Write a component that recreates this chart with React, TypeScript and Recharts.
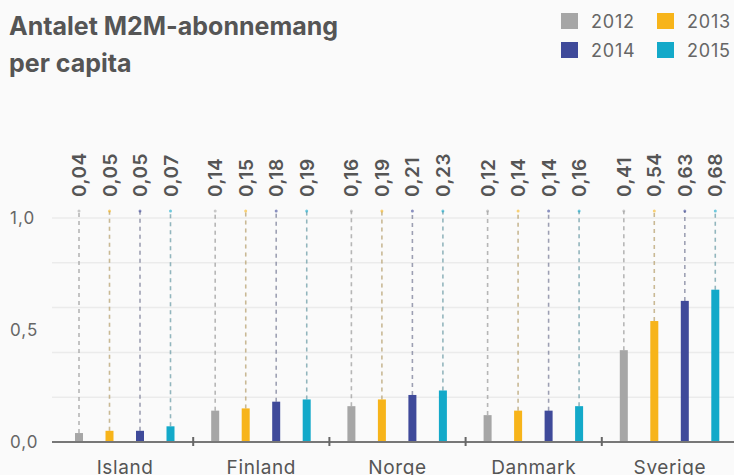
import React from 'react';
import { BarChart, Bar, XAxis, YAxis, CartesianGrid, LabelList } from 'recharts';

// kategorier + serier (värden per capita)
const countries = ['Island', 'Finland', 'Norge', 'Danmark', 'Sverige'];
const years = ['2012', '2013', '2014', '2015'];
const v2012 = [0.04, 0.14, 0.16, 0.12, 0.41];
const v2013 = [0.05, 0.15, 0.19, 0.14, 0.54];
const v2014 = [0.05, 0.18, 0.21, 0.14, 0.63];
const v2015 = [0.07, 0.19, 0.23, 0.16, 0.68];
const yTicks = [0, 0.5, 1];
const gridValues = [0.2, 0.4, 0.6, 0.8, 1.0];

const COLORS: Record<string, string> = {
  '2012': '#a6a6a6',
  '2013': '#f7b41a',
  '2014': '#3f4a9a',
  '2015': '#13a9c9',
};

const FONT = "Inter, 'DejaVu Sans', sans-serif";
const TEXT = '#555555';

// layout
const W = 740;
const H = 475;
const TOP = 218; // y of 1,0
const LEFT = 52;
const RIGHT = 2;
const PAD_L = 5;
const XH = 33;
const AXIS_Y = H - XH;
const BAND = (W - LEFT - RIGHT - PAD_L) / countries.length;

const data = countries.map((c, i) => ({
  country: c,
  y2012: v2012[i],
  y2013: v2013[i],
  y2014: v2014[i],
  y2015: v2015[i],
}));

const fmt = (v: number) => v.toFixed(2).replace('.', ',');

// stapel + streckad linje upp till etiketten
const makeShape = (color: string) => (props: any) => {
  const { x, y, width, height } = props;
  const cx = x + width / 2;
  const topY = TOP - 7;
  return (
    <g>
      <line x1={cx} x2={cx} y1={y} y2={topY} stroke="#a0a0a0" strokeOpacity={0.7} strokeWidth={1.5} strokeDasharray="4 4" />
      <line x1={cx} x2={cx} y1={y} y2={topY} stroke={color} strokeOpacity={0.25} strokeWidth={1.5} strokeDasharray="4 4" />
      <circle cx={cx} cy={topY} r={1.5} fill={color} fillOpacity={0.6} />
      <rect x={x} y={y} width={width} height={height} fill={color} />
    </g>
  );
};

const valueLabel = (props: any) => {
  const { x, width, value } = props;
  const cx = x + width / 2 + 7;
  const ty = TOP - 21;
  return (
    <text
      x={cx}
      y={ty}
      transform={`rotate(-90 ${cx} ${ty})`}
      textAnchor="start"
      fontFamily={FONT}
      fontSize={19}
      fontWeight={600}
      letterSpacing={0.5}
      fill={TEXT}
    >
      {fmt(value)}
    </text>
  );
};

const XTick = (props: any) => {
  const { x, payload, index } = props;
  return (
    <g>
      {index > 0 && (
        <line x1={x - BAND / 2} x2={x - BAND / 2} y1={AXIS_Y - 5} y2={AXIS_Y + 4} stroke="#666" strokeWidth={2} />
      )}
      <text x={x} y={H - 1} textAnchor="middle" fontFamily={FONT} fontSize={19} letterSpacing={0.6} fill={TEXT}>
        {payload.value}
      </text>
    </g>
  );
};

const YTick = (props: any) => {
  const { y, payload } = props;
  return (
    <text x={10} y={y + 6} textAnchor="start" fontFamily={FONT} fontSize={17} letterSpacing={1} fill="#666">
      {fmt(payload.value).slice(0, 3)}
    </text>
  );
};

const Legend = () => (
  <div style={{ position: 'absolute', left: 561, top: 13, width: 170, fontFamily: FONT, fontSize: 18, letterSpacing: 0.8, color: '#666' }}>
    {years.map((yr, i) => (
      <div
        key={yr}
        style={{
          position: 'absolute',
          left: (i % 2) * 96,
          top: Math.floor(i / 2) * 29,
          display: 'flex',
          alignItems: 'center',
          height: 16,
        }}
      >
        <span style={{ width: 17, height: 16, background: COLORS[yr], display: 'inline-block' }} />
        <span style={{ marginLeft: 13 }}>{yr}</span>
      </div>
    ))}
  </div>
);

export default function App() {
  return (
    <div style={{ position: 'absolute', left: 0, top: 0, width: 734, height: 475, overflow: 'hidden', background: '#fafafa' }}>
      <div style={{ position: 'absolute', left: 9, top: 8, fontFamily: FONT, fontWeight: 700, fontSize: 25, color: TEXT, lineHeight: '37px' }}>
        Antalet M2M-abonnemang
        <br />
        per capita
      </div>
      <Legend />
      <div style={{ position: 'absolute', left: 0, top: 0 }}>
        <BarChart
          width={W}
          height={H}
          data={data}
          margin={{ top: TOP, right: RIGHT, bottom: 0, left: 0 }}
          barSize={8}
          barGap={22.5}
        >
          <CartesianGrid horizontal vertical={false} horizontalValues={gridValues} stroke="#ebebeb" strokeWidth={1.5} />
          <XAxis
            dataKey="country"
            height={XH}
            padding={{ left: PAD_L, right: 0 }}
            axisLine={{ stroke: '#777', strokeWidth: 2 }}
            tickLine={false}
            tick={<XTick />}
            interval={0}
          />
          <YAxis
            width={LEFT}
            domain={[0, 1]}
            ticks={yTicks}
            axisLine={false}
            tickLine={false}
            tick={<YTick />}
          />
          {years.map((yr) => (
            <Bar key={yr} dataKey={`y${yr}`} fill={COLORS[yr]} shape={makeShape(COLORS[yr])} isAnimationActive={false}>
              <LabelList dataKey={`y${yr}`} content={valueLabel} />
            </Bar>
          ))}
        </BarChart>
      </div>
    </div>
  );
}
